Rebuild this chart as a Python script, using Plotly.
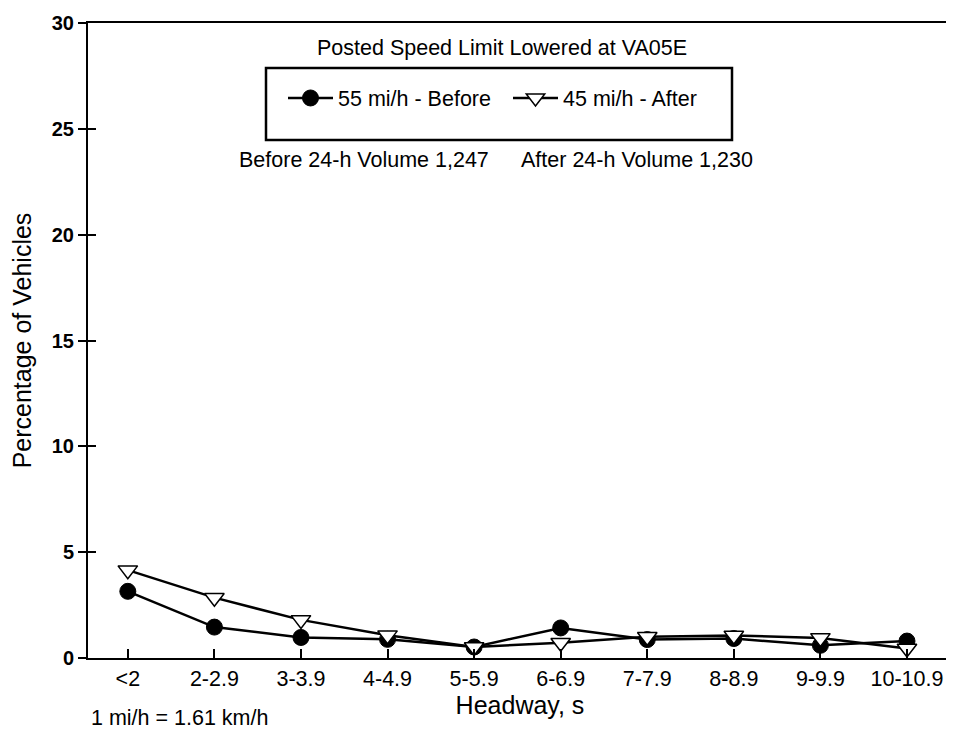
import plotly.graph_objects as go

categories = ["<2", "2-2.9", "3-3.9", "4-4.9", "5-5.9", "6-6.9", "7-7.9", "8-8.9", "9-9.9", "10-10.9"]
before_55 = [3.15, 1.46, 0.97, 0.88, 0.52, 1.42, 0.87, 0.92, 0.6, 0.8]
after_45 = [4.15, 2.85, 1.8, 1.08, 0.52, 0.72, 1.0, 1.06, 0.95, 0.45]
y_ticks = [0, 5, 10, 15, 20, 25, 30]

FONT = "Liberation Sans, Arial, sans-serif"
# page body has an 8px margin; figure is sized so it fits the 954x732 window
W, H = 946, 724
L, R, T, B = 80, 2, 15, 74
PW, PH = W - L - R, H - T - B
SX0, SY0 = 88, 23  # screen position of plot area's top-left corner


def px(x):
    return (x - SX0) / PW


def py(y):
    return (SY0 + PH - y) / PH


TXT = 21.5

fig = go.Figure()
fig.add_trace(go.Scatter(
    x=categories, y=before_55, name="55 mi/h - Before", mode="lines+markers",
    line=dict(color="black", width=2.5),
    marker=dict(symbol="circle", size=16, color="black", line=dict(color="black", width=1)),
))
fig.add_trace(go.Scatter(
    x=categories, y=after_45, name="45 mi/h - After", mode="lines+markers",
    line=dict(color="black", width=2.5),
    marker=dict(symbol="triangle-down", size=17, color="white", line=dict(color="black", width=1.5)),
))
# invisible trace carrying the inward y ticks
fig.add_trace(go.Scatter(x=[categories[0]], y=[0], yaxis="y2", showlegend=False,
                         mode="markers", marker=dict(opacity=0), hoverinfo="skip"))

fig.update_layout(
    width=W, height=H,
    margin=dict(l=L, r=R, t=T, b=B),
    paper_bgcolor="white", plot_bgcolor="white",
    font=dict(family=FONT, color="black"),
    xaxis=dict(
        type="category", range=[-0.46, 9.52],
        showgrid=False, zeroline=False,
        showline=True, linecolor="black", linewidth=2, mirror=True,
        ticks="inside", ticklen=9, tickwidth=1.5, tickcolor="black",
        tickfont=dict(size=TXT, family=FONT),
        title=dict(text="Headway, s", font=dict(size=25, family=FONT), standoff=4),
        automargin=False,
    ),
    yaxis=dict(
        range=[0, 30], tickvals=y_ticks,
        showgrid=False, zeroline=False,
        showline=True, linecolor="black", linewidth=2, mirror=True,
        ticks="outside", ticklen=8, tickwidth=1.5, tickcolor="black",
        tickfont=dict(size=20, family=FONT, weight="bold"),
        title=dict(text="Percentage of Vehicles", font=dict(size=25, family=FONT), standoff=16),
        automargin=False,
    ),
    yaxis2=dict(
        range=[0, 30], tickvals=y_ticks, overlaying="y", side="left",
        showgrid=False, zeroline=False, showticklabels=False,
        ticks="inside", ticklen=8, tickwidth=1.5, tickcolor="black",
    ),
    legend=dict(
        orientation="h", x=px(283), y=py(98), xanchor="left", yanchor="middle",
        bgcolor="rgba(0,0,0,0)", borderwidth=0,
        font=dict(size=TXT, family=FONT),
        itemwidth=45,
        entrywidth=165, entrywidthmode="pixels",
    ),
    shapes=[dict(type="rect", xref="paper", yref="paper",
                 x0=px(266), x1=px(732), y0=py(140), y1=py(68),
                 line=dict(color="black", width=2.5), fillcolor="rgba(0,0,0,0)")],
    annotations=[
        dict(text="Posted Speed Limit Lowered at VA05E", xref="paper", yref="paper",
             x=px(502), y=py(48), xanchor="center", yanchor="middle",
             showarrow=False, font=dict(size=TXT, family=FONT)),
        dict(text="Before 24-h Volume 1,247", xref="paper", yref="paper",
             x=px(364), y=py(160), xanchor="center", yanchor="middle",
             showarrow=False, font=dict(size=TXT, family=FONT)),
        dict(text="After 24-h Volume 1,230", xref="paper", yref="paper",
             x=px(637), y=py(160), xanchor="center", yanchor="middle",
             showarrow=False, font=dict(size=TXT, family=FONT)),
        dict(text="1 mi/h = 1.61 km/h", xref="paper", yref="paper",
             x=px(89), y=py(718), xanchor="left", yanchor="middle",
             showarrow=False, font=dict(size=TXT, family=FONT)),
    ],
)

fig.write_html("out.html")
